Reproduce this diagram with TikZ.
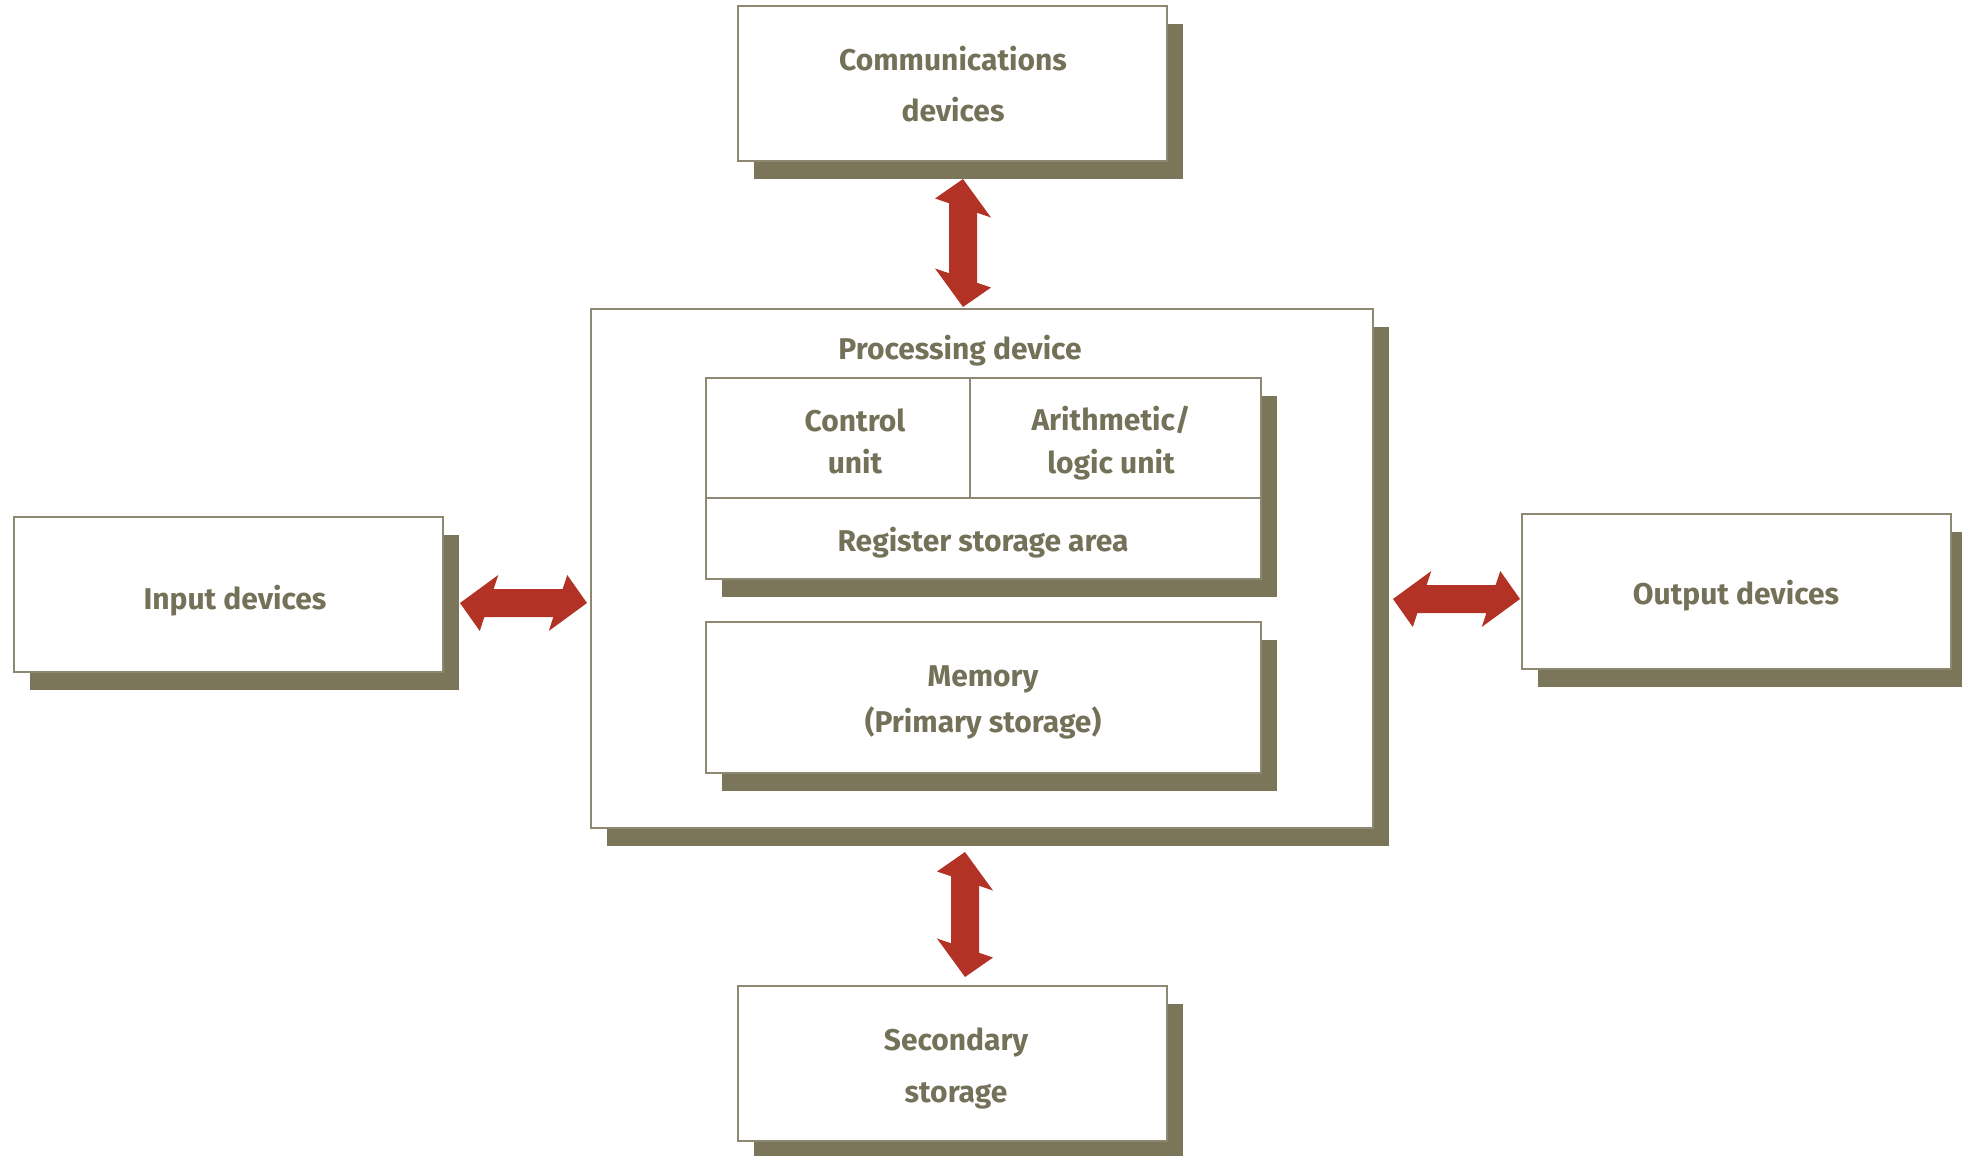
\documentclass[tikz,border=0pt]{standalone}
\usepackage{fontspec}
\setmainfont{Fira Sans}
\usetikzlibrary{fit,shadows,calc}
\definecolor{shadowc}{HTML}{7B7659}
\definecolor{linec}{HTML}{8C8872}
\definecolor{textc}{HTML}{747159}
\definecolor{arrowc}{HTML}{B23326}
\tikzset{
  box/.style={draw=linec, line width=0.8pt, fill=white, inner sep=0pt,
    drop shadow={shadow xshift=8pt, shadow yshift=-9pt, fill=shadowc, opacity=1}},
  lbl/.style={text=textc, font=\bfseries\fontsize{15pt}{18pt}\selectfont, align=center, inner sep=0pt},
  divider/.style={draw=linec, line width=0.8pt},
}
\newcommand\vdarrow[2]{%
  \path let \p1=(#1), \p2=(#2) in \pgfextra{\xdef\arlen{\the\dimexpr\y1-\y2\relax}};
  \begin{scope}[shift={(#1)}, yslant=-0.34]
    \fill[arrowc] (0pt,0pt) -- (-14pt,-14.5pt) -- (-7pt,-14.5pt) -- (-7pt,{-\arlen+14.5pt})
      -- (-14pt,{-\arlen+14.5pt}) -- (0pt,-\arlen) -- (14pt,{-\arlen+14.5pt})
      -- (7pt,{-\arlen+14.5pt}) -- (7pt,-14.5pt) -- (14pt,-14.5pt) -- cycle;
  \end{scope}}
\newcommand\hdarrow[2]{%
  \path let \p1=(#1), \p2=(#2) in \pgfextra{\xdef\arlen{\the\dimexpr\x2-\x1\relax}};
  \begin{scope}[shift={(#1)}, xslant=0.33]
    \fill[arrowc] (0pt,0pt) -- (14.5pt,14pt) -- (14.5pt,7pt) -- ({\arlen-14.5pt},7pt)
      -- ({\arlen-14.5pt},14pt) -- (\arlen,0pt) -- ({\arlen-14.5pt},-14pt)
      -- ({\arlen-14.5pt},-7pt) -- (14.5pt,-7pt) -- (14.5pt,-14pt) -- cycle;
  \end{scope}}
\begin{document}
\begin{tikzpicture}[x=0.5pt,y=-0.5pt]
\useasboundingbox (0,0) rectangle (1962,1155);
% boxes
\node[box, fit={(738,6) (1167,161)}] (comm) {};
\node[box, fit={(591,309) (1373,828)}] (proc) {};
\node[box, fit={(706,378) (1261,579)}] (cpu) {};
\node[box, fit={(706,622) (1261,773)}] (mem) {};
\node[box, fit={(14,517) (443,672)}] (inp) {};
\node[box, fit={(1522,514) (1951,669)}] (outp) {};
\node[box, fit={(738,986) (1167,1141)}] (sec) {};
% dividers inside CPU box
\coordinate (hl) at (706,498);
\coordinate (vl) at (970,498);
\draw[divider] (hl) -- (hl -| cpu.east);
\draw[divider] (vl) -- (vl |- cpu.north);
% texts
\node[lbl, font=\bfseries\fontsize{15pt}{25.5pt}\selectfont] (commt) at (953,84) {Communications\\devices};
\node[lbl] (proct) at (960,351) {Processing device};
\node[lbl, font=\bfseries\fontsize{15pt}{21pt}\selectfont] (ctlt) at (855,441) {Control\\unit};
\node[lbl, font=\bfseries\fontsize{15pt}{21.5pt}\selectfont] (alut) at (1111,443) {Arithmetic/\\logic unit};
\node[lbl] (regt) at (983,543) {Register storage area};
\node[lbl, font=\bfseries\fontsize{15pt}{23pt}\selectfont] (memt) at (983,702) {Memory\\(Primary storage)};
\node[lbl] (inpt) at (235,601) {Input devices};
\node[lbl] (outt) at (1736,596) {Output devices};
\node[lbl, font=\bfseries\fontsize{15pt}{26pt}\selectfont] (sect) at (956,1068) {Secondary\\storage};
% arrows
\coordinate (a1s) at (963,179);
\coordinate (a1e) at (963,307);
\coordinate (a2s) at (965,852);
\coordinate (a2e) at (965,977);
\coordinate (a3s) at (460,603);
\coordinate (a3e) at (587,603);
\coordinate (a4s) at (1393,599);
\coordinate (a4e) at (1520,599);
\vdarrow{a1s}{a1e}
\vdarrow{a2s}{a2e}
\hdarrow{a3s}{a3e}
\hdarrow{a4s}{a4e}
\end{tikzpicture}
\end{document}
